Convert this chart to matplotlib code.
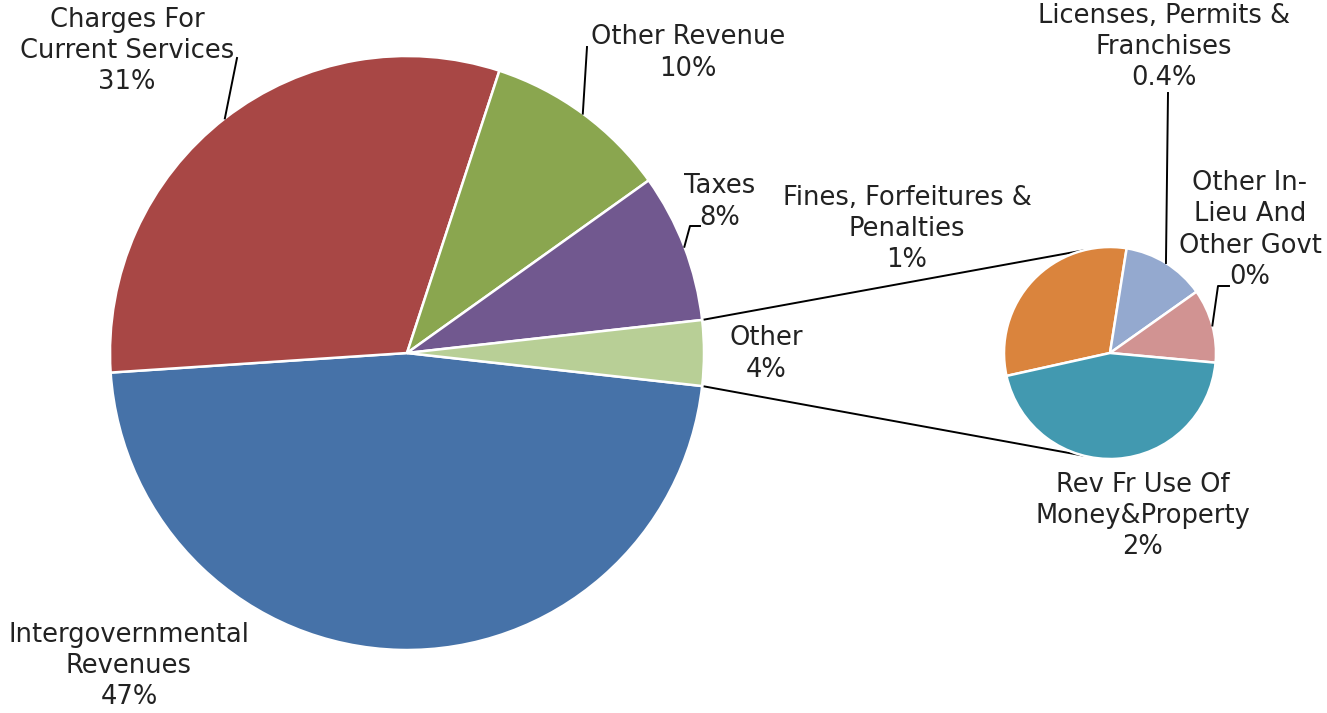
import numpy as np
import matplotlib
matplotlib.use("Agg")
import matplotlib.pyplot as plt

# revenue shares (percent of total)
main_names = ["Intergovernmental\nRevenues", "Charges For\nCurrent Services",
              "Other Revenue", "Taxes"]
main_vals = [47.2, 31.1, 10.1, 8.1]
main_colors = ["#4672A8", "#A84745", "#8AA64F", "#71588F"]

sub_names = ["Fines, Forfeitures &\nPenalties", "Licenses, Permits &\nFranchises",
             "Other In-\nLieu And\nOther Govt", "Rev Fr Use Of\nMoney&Property"]
sub_vals = [1.1, 0.45, 0.4, 1.6]
sub_decimals = [0, 1, 0, 0]
sub_colors = ["#DA843D", "#94A9CF", "#D19392", "#4299B0"]

other_name = "Other"
other_color = "#B8CF96"

W, H = 1327, 713
fig = plt.figure(figsize=(W / 100, H / 100), dpi=100)
ax = fig.add_axes([0, 0, 1, 1])

other_val = sum(sub_vals)
vals = main_vals + [other_val]
total = sum(vals)
pct = [v / total * 100 for v in vals]
sub_pct = [v / total * 100 for v in sub_vals]

c1, r1 = (407, 360), 297
c2, r2 = (1110, 360), 106
wedge_kw = dict(edgecolor="white", linewidth=1.8)

# main pie, "Other" slice centred on the right-hand side
half_other = 360 * other_val / total / 2
w1, _ = ax.pie(vals, colors=main_colors + [other_color], startangle=-half_other,
               counterclock=False, center=c1, radius=r1, wedgeprops=wedge_kw,
               frame=True)
w2, _ = ax.pie(sub_vals, colors=sub_colors, startangle=192.5, counterclock=False,
               center=c2, radius=r2, wedgeprops=wedge_kw, frame=True)


def edge(c, r, ang):
    a = np.deg2rad(ang)
    return c[0] + r * np.cos(a), c[1] + r * np.sin(a)


def mid(w):
    return (w.theta1 + w.theta2) / 2


# connector lines between the two pies
ow = w1[-1]
for a_main, a_sub in [(ow.theta2, 104.5), (ow.theta1, -104.5)]:
    p, q = edge(c1, r1, a_main), edge(c2, r2, a_sub)
    ax.plot([p[0], q[0]], [p[1], q[1]], color="black", lw=1.4, zorder=0)

txt = dict(fontsize=18.5, color="#222222", ha="center", va="center",
           family="DejaVu Sans", linespacing=1.26)


def label(name, p, dec, xy):
    ax.text(xy[0], xy[1], f"{name}\n{p:.{dec}f}%", **txt)


# main pie labels
main_pos = [(129, 47), (127, 662), (688, 660), (720, 511)]
for name, p, xy in zip(main_names, pct[:4], main_pos):
    label(name, p, 0, xy)
label(other_name, pct[4], 0, (766, 359))

sub_pos = [(907, 484), (1164, 666), (1250, 483), (1143, 197)]
for name, p, dec, xy in zip(sub_names, sub_pct, sub_decimals, sub_pos):
    label(name, p, dec, xy)

# leader lines
leaders = [
    (w1[1], c1, r1, [(237, 655)]),
    (w1[2], c1, r1, [(587, 666)]),
    (w1[3], c1, r1, [(700, 487), (690, 487)]),
    (w2[1], c2, r2, [(1168, 620)]),
    (w2[2], c2, r2, [(1229, 427), (1218, 427)]),
]
for w, c, r, pts in leaders:
    end = edge(c, r, mid(w))
    xs = [p[0] for p in pts] + [end[0]]
    ys = [p[1] for p in pts] + [end[1]]
    ax.plot(xs, ys, color="black", lw=1.4)

ax.set_xlim(0, W)
ax.set_ylim(0, H)
ax.set_aspect("equal")
ax.axis("off")

fig.savefig("out.png", dpi=100, facecolor="white")
